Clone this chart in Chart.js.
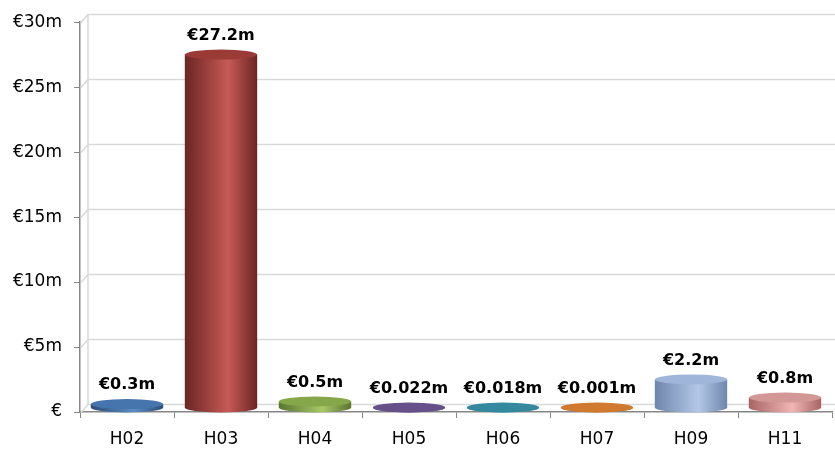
<!DOCTYPE html>
<html>
<head>
<meta charset="utf-8">
<script src="https://cdn.jsdelivr.net/npm/chart.js@4.4.0/dist/chart.umd.min.js"></script>
<style>
  html, body { margin: 0; padding: 0; background: #fff; }
  #wrap { width: 835px; height: 450px; }
</style>
</head>
<body>
<div id="wrap"><canvas id="chart" width="835" height="450"></canvas></div>
<script>
// data
const categories = ["H02", "H03", "H04", "H05", "H06", "H07", "H09", "H11"];
const values = [0.3, 27.2, 0.5, 0.022, 0.018, 0.001, 2.2, 0.8];
const yTicks = [0, 5, 10, 15, 20, 25, 30];

// colours: [dark edge, light centre, top cap]
const barColors = [
  ["#2c4d75", "#5b8cc8", "#4674ad"],
  ["#6b2523", "#c65a57", "#9a3b38"],
  ["#5a7530", "#a8c866", "#86a64a"],
  ["#44325e", "#8a6db0", "#65508a"],
  ["#22687a", "#56b8d2", "#35899e"],
  ["#9a5214", "#f5a05a", "#cf7a2e"],
  ["#6f86ad", "#b3c8e8", "#9fb5d9"],
  ["#a86463", "#f0b6b5", "#d39795"]
];

const FONT = "'DejaVu Sans', sans-serif";
const DX = 8, DY = 8; // 3d depth offset of back wall

// back wall grid lines (3d look)
const gridPlugin = {
  id: "grid3d",
  beforeDatasetsDraw(chart) {
    const { ctx, chartArea, scales } = chart;
    ctx.save();
    ctx.strokeStyle = "#d9d9d9";
    ctx.lineWidth = 1.5;
    yTicks.forEach(t => {
      const y = Math.round(scales.y.getPixelForValue(t)) + 0.5;
      ctx.beginPath();
      ctx.moveTo(chartArea.left + 1, y);
      ctx.lineTo(chartArea.left + DX, y - DY);
      ctx.lineTo(chartArea.right + 3, y - DY);
      ctx.stroke();
    });
    ctx.beginPath();
    ctx.moveTo(chartArea.left + DX, scales.y.getPixelForValue(0) - DY);
    ctx.lineTo(chartArea.left + DX, scales.y.getPixelForValue(30) - DY);
    ctx.stroke();
    ctx.restore();
  }
};

// cylinders + labels
const cylPlugin = {
  id: "cylinders",
  afterDatasetsDraw(chart) {
    const { ctx } = chart;
    const meta = chart.getDatasetMeta(0);
    ctx.save();
    meta.data.forEach((bar, i) => {
      const c = barColors[i];
      const w = bar.width;
      const left = bar.x - w / 2;
      const ry = 5;
      const baseY = bar.base - 4;
      let topY = bar.y - 4;
      if (topY > baseY) topY = baseY;

      const grad = ctx.createLinearGradient(left, 0, left + w, 0);
      grad.addColorStop(0, c[0]);
      grad.addColorStop(0.6, c[1]);
      grad.addColorStop(1, c[0]);

      // body
      ctx.fillStyle = grad;
      ctx.beginPath();
      ctx.moveTo(left, topY);
      ctx.lineTo(left, baseY);
      ctx.ellipse(bar.x, baseY, w / 2, ry, 0, Math.PI, 0, true);
      ctx.lineTo(left + w, topY);
      ctx.closePath();
      ctx.fill();

      // top cap
      ctx.fillStyle = c[2];
      ctx.beginPath();
      ctx.ellipse(bar.x, topY, w / 2, ry, 0, 0, Math.PI * 2);
      ctx.fill();

      // label
      ctx.fillStyle = "#000";
      ctx.font = "bold 16px " + FONT;
      ctx.textAlign = "center";
      ctx.textBaseline = "middle";
      ctx.fillText("€" + values[i] + "m", bar.x, bar.y - 23);
    });
    ctx.restore();
  }
};

const ctx = document.getElementById("chart").getContext("2d");
new Chart(ctx, {
  type: "bar",
  data: {
    labels: categories,
    datasets: [{
      data: values,
      backgroundColor: "rgba(0,0,0,0)",
      barPercentage: 0.77,
      categoryPercentage: 1.0
    }]
  },
  options: {
    responsive: false,
    animation: false,
    layout: { padding: { top: 22, right: 3, left: 0, bottom: 0 } },
    plugins: { legend: { display: false }, tooltip: { enabled: false } },
    scales: {
      x: {
        afterFit(axis) { axis.height = 38; },
        grid: { display: true, drawOnChartArea: false, drawTicks: true, tickLength: 6, color: "#868686", offset: true },
        border: { display: true, color: "#868686", width: 1.5 },
        ticks: { color: "#000", font: { family: FONT, size: 17 }, padding: 11 }
      },
      y: {
        min: 0, max: 30,
        afterBuildTicks(axis) { axis.ticks = yTicks.map(v => ({ value: v })); },
        afterFit(axis) { axis.width = 80; },
        grid: { display: true, drawOnChartArea: false, drawTicks: true, tickLength: 6, color: "#868686" },
        border: { display: true, color: "#868686", width: 1.5 },
        ticks: {
          color: "#000",
          font: { family: FONT, size: 17 },
          padding: 12,
          callback: v => v === 0 ? "€" : "€" + v + "m"
        }
      }
    }
  },
  plugins: [gridPlugin, cylPlugin]
});
</script>
</body>
</html>
